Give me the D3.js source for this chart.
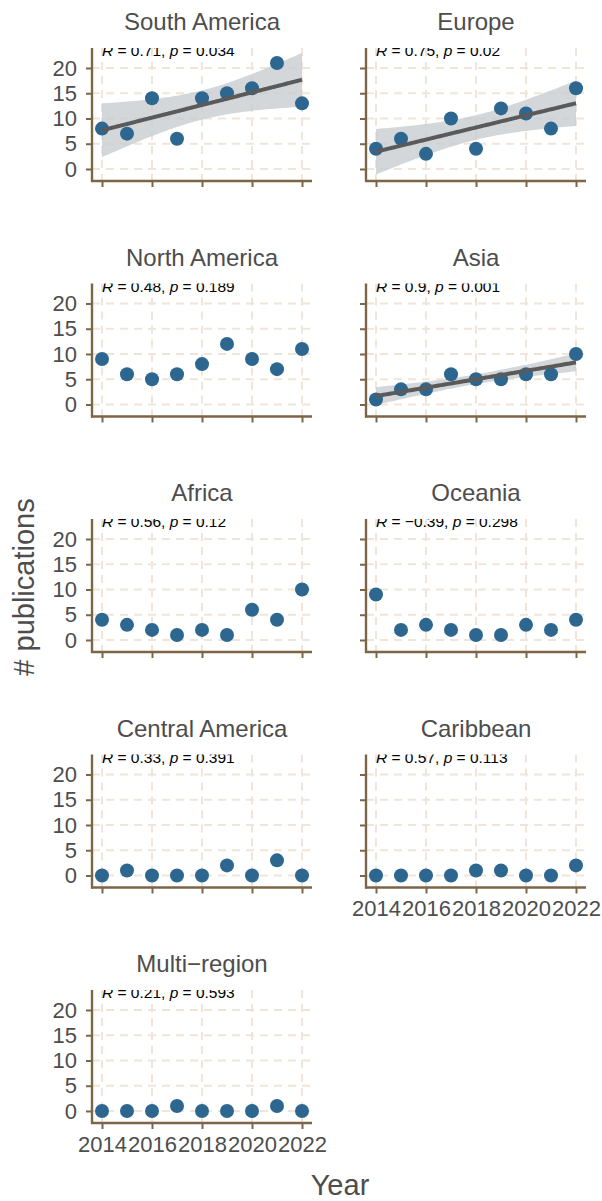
<!DOCTYPE html>
<html lang="en">
<head>
    <meta charset="utf-8">
    <title>Publications per region by year</title>
    <script type="text/javascript" src="https://d3js.org/d3.v7.min.js"></script>
    <style type="text/css">
        body { margin: 0; background: #fff; }
        svg { font-family: "Liberation Sans", Arial, sans-serif; }
    </style>
</head>
<body>
<script type="text/javascript">

    var years = [2014, 2015, 2016, 2017, 2018, 2019, 2020, 2021, 2022];
    var regions = ["South America", "Europe", "North America", "Asia", "Africa",
                   "Oceania", "Central America", "Caribbean", "Multi\u2212region"];

    var southAmerica   = [8, 7, 14, 6, 14, 15, 16, 21, 13];
    var europe         = [4, 6, 3, 10, 4, 12, 11, 8, 16];
    var northAmerica   = [9, 6, 5, 6, 8, 12, 9, 7, 11];
    var asia           = [1, 3, 3, 6, 5, 5, 6, 6, 10];
    var africa         = [4, 3, 2, 1, 2, 1, 6, 4, 10];
    var oceania        = [9, 2, 3, 2, 1, 1, 3, 2, 4];
    var centralAmerica = [0, 1, 0, 0, 0, 2, 0, 3, 0];
    var caribbean      = [0, 0, 0, 0, 1, 1, 0, 0, 2];
    var multiRegion    = [0, 0, 0, 1, 0, 0, 0, 1, 0];

    var rValues = ["0.71", "0.75", "0.48", "0.9", "0.56", "\u22120.39", "0.33", "0.57", "0.21"];
    var pValues = ["0.034", "0.02", "0.189", "0.001", "0.12", "0.298", "0.391", "0.113", "0.593"];
    var showFit = [true, true, false, true, false, false, false, false, false];

    var xTicks = [2014, 2016, 2018, 2020, 2022];
    var yTicks = [0, 5, 10, 15, 20];

    var series = [southAmerica, europe, northAmerica, asia, africa,
                  oceania, centralAmerica, caribbean, multiRegion];

    var width = 602, height = 1201;
    var axisCol = "#7d6548", gridCol = "#f1e5d9", textCol = "#4d4d4d";
    var pointCol = "#2d6790";

    var svg = d3.select("body").append("svg")
        .attr("width", width)
        .attr("height", height);

    var colX = [92, 366];      // left edge of each panel column
    var panelW = 220;
    var rowTop = 48, rowStep = 235.5, panelH = 133;

    var x = d3.scaleLinear().domain([2013.6, 2022.4]).range([0, panelW]);
    var y = d3.scaleLinear().domain([-2.38, 23.96]).range([panelH, 0]);

    // linear fit with 95% confidence band (like geom_smooth(method = "lm"))
    function fit(vals) {
        var n = vals.length;
        var mx = d3.mean(years), my = d3.mean(vals);
        var sxx = d3.sum(years, function(v) { return (v - mx) * (v - mx); });
        var sxy = d3.sum(years, function(v, i) { return (v - mx) * (vals[i] - my); });
        var b = sxy / sxx, a = my - b * mx;
        var sse = d3.sum(years, function(v, i) { var r = vals[i] - (a + b * v); return r * r; });
        var s = Math.sqrt(sse / (n - 2));
        var t = 2.3646;
        var pts = d3.range(0, 81).map(function(k) {
            var xv = 2014 + k * 0.1;
            var f = a + b * xv;
            var se = s * Math.sqrt(1 / n + (xv - mx) * (xv - mx) / sxx);
            return {x: xv, y: f, lo: f - t * se, hi: f + t * se};
        });
        return pts;
    }

    regions.forEach(function(name, i) {
        var col = i % 2, row = Math.floor(i / 2);
        var top = rowTop + row * rowStep;
        var g = svg.append("g")
            .attr("transform", "translate(" + colX[col] + "," + top + ")");

        svg.append("text")
            .attr("x", colX[col] + panelW / 2)
            .attr("y", top - 18)
            .attr("text-anchor", "middle")
            .attr("font-size", 24)
            .attr("fill", textCol)
            .text(name);

        var clipId = "clip" + i;
        g.append("clipPath").attr("id", clipId)
            .append("rect").attr("width", panelW).attr("height", panelH);

        var inner = g.append("g").attr("clip-path", "url(#" + clipId + ")");

        // grid
        inner.selectAll(".gy").data(yTicks).enter().append("line")
            .attr("x1", 0).attr("x2", panelW)
            .attr("y1", function(d) { return y(d); })
            .attr("y2", function(d) { return y(d); })
            .attr("stroke", gridCol).attr("stroke-width", 2)
            .attr("stroke-dasharray", "8,6");
        inner.selectAll(".gx").data(xTicks).enter().append("line")
            .attr("y1", 0).attr("y2", panelH)
            .attr("x1", function(d) { return x(d); })
            .attr("x2", function(d) { return x(d); })
            .attr("stroke", gridCol).attr("stroke-width", 2)
            .attr("stroke-dasharray", "8,6");

        var vals = series[i];

        if (showFit[i]) {
            var pts = fit(vals);
            inner.append("path")
                .datum(pts)
                .attr("fill", "#c4cacd")
                .attr("fill-opacity", 0.75)
                .attr("d", d3.area()
                    .x(function(d) { return x(d.x); })
                    .y0(function(d) { return y(d.lo); })
                    .y1(function(d) { return y(d.hi); }));
        }

        inner.selectAll(".pt").data(vals).enter().append("circle")
            .attr("cx", function(d, k) { return x(years[k]); })
            .attr("cy", function(d) { return y(d); })
            .attr("r", 7)
            .attr("fill", pointCol);

        if (showFit[i]) {
            inner.append("path")
                .datum(pts)
                .attr("fill", "none")
                .attr("stroke", "#5a5a5a")
                .attr("stroke-width", 4)
                .attr("d", d3.line()
                    .x(function(d) { return x(d.x); })
                    .y(function(d) { return y(d.y); }));
        }

        var lab = inner.append("text")
            .attr("x", x(2014))
            .attr("y", 8)
            .attr("font-size", 15.5)
            .attr("fill", "#000");
        lab.append("tspan").attr("font-style", "italic").text("R");
        lab.append("tspan").text(" = " + rValues[i] + ", ");
        lab.append("tspan").attr("font-style", "italic").text("p");
        lab.append("tspan").text(" = " + pValues[i]);

        // axes
        var showXLabels = (i === 7 || i === 8);
        var xAxis = d3.axisBottom(x).tickValues(xTicks).tickSize(6).tickPadding(7)
            .tickFormat(showXLabels ? d3.format("d") : "");
        var yAxis = d3.axisLeft(y).tickValues(yTicks).tickSize(6).tickPadding(9)
            .tickFormat(col === 0 ? d3.format("d") : "");

        var gx = g.append("g").attr("transform", "translate(0," + panelH + ")").call(xAxis);
        var gy = g.append("g").call(yAxis);
        [gx, gy].forEach(function(ax) {
            ax.select(".domain").remove();
            ax.selectAll("line").attr("stroke", axisCol).attr("stroke-width", 2);
            ax.selectAll("text").attr("fill", textCol).attr("font-size", 22)
                .attr("font-family", "Liberation Sans, Arial, sans-serif");
        });
        g.append("line").attr("x1", -1).attr("x2", panelW).attr("y1", panelH).attr("y2", panelH)
            .attr("stroke", axisCol).attr("stroke-width", 2.4);
        g.append("line").attr("x1", 0).attr("x2", 0).attr("y1", 0).attr("y2", panelH + 1)
            .attr("stroke", axisCol).attr("stroke-width", 2.4);
    });

    svg.append("text")
        .attr("transform", "translate(34,587) rotate(-90)")
        .attr("text-anchor", "middle")
        .attr("font-size", 29)
        .attr("fill", textCol)
        .text("# publications");

    svg.append("text")
        .attr("x", 340)
        .attr("y", 1195)
        .attr("text-anchor", "middle")
        .attr("font-size", 29)
        .attr("fill", textCol)
        .text("Year");

</script>
</body>
</html>
